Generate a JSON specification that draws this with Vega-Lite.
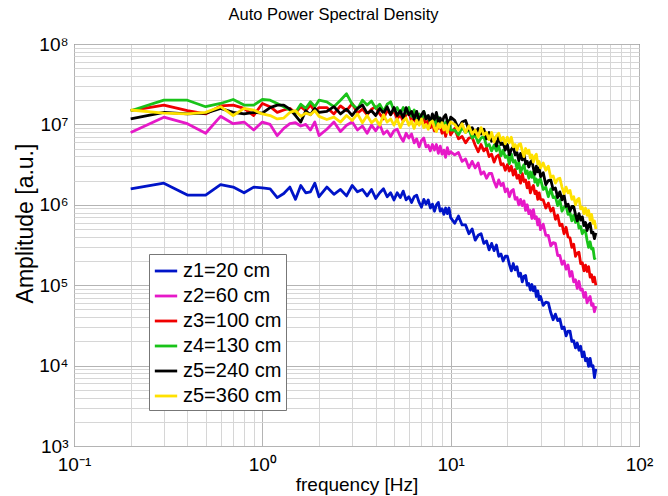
{
"$schema": "https://vega.github.io/schema/vega-lite/v6.json",
"width": 565, "height": 402,
"autosize": {"type": "none"},
"padding": {"left": 74, "top": 44, "right": 29, "bottom": 50},
"title": {"text": "Auto Power Spectral Density", "fontSize": 16.5, "fontWeight": "normal", "font": "Liberation Sans", "color": "#000", "offset": 12, "dx": -23},
"config": {"view": {"stroke": "#444", "strokeWidth": 1}, "font": "Liberation Sans"},
"data": {"values": [
{"f":0.2,"A":1.58e6,"B":7.94e6,"C":1.48e7,"D":1.48e7,"E":1.17e7,"F":1.51e7},
{"f":0.3,"A":1.86e6,"B":1.23e7,"C":1.74e7,"D":2.00e7,"E":1.41e7,"F":1.38e7},
{"f":0.4,"A":1.32e6,"B":1.02e7,"C":1.48e7,"D":2.00e7,"E":1.35e7,"F":1.35e7},
{"f":0.5,"A":1.32e6,"B":7.76e6,"C":1.35e7,"D":1.66e7,"E":1.38e7,"F":1.41e7},
{"f":0.6,"A":1.78e6,"B":1.26e7,"C":1.70e7,"D":1.82e7,"E":1.58e7,"F":1.66e7},
{"f":0.7,"A":1.66e6,"B":1.02e7,"C":1.74e7,"D":2.04e7,"E":1.41e7,"F":1.29e7},
{"f":0.8,"A":1.41e6,"B":1.07e7,"C":1.58e7,"D":1.74e7,"E":1.35e7,"F":1.58e7},
{"f":0.9,"A":1.66e6,"B":8.51e6,"C":1.29e7,"D":1.74e7,"E":1.41e7,"F":1.51e7},
{"f":1.0,"A":1.62e6,"B":1.07e7,"C":1.82e7,"D":2.04e7,"E":1.38e7,"F":1.35e7},
{"f":1.1,"A":1.58e6,"B":1.00e7,"C":1.66e7,"D":2.00e7,"E":1.62e7,"F":1.29e7},
{"f":1.2,"A":1.23e6,"B":7.24e6,"C":1.41e7,"D":1.82e7,"E":1.74e7,"F":1.17e7},
{"f":1.3,"A":1.38e6,"B":8.91e6,"C":1.51e7,"D":1.66e7,"E":1.74e7,"F":1.20e7},
{"f":1.4,"A":1.66e6,"B":1.02e7,"C":1.58e7,"D":1.51e7,"E":1.55e7,"F":1.41e7},
{"f":1.5,"A":1.17e6,"B":1.05e7,"C":1.38e7,"D":1.41e7,"E":1.29e7,"F":1.48e7},
{"f":1.6,"A":1.74e6,"B":9.55e6,"C":1.66e7,"D":1.78e7,"E":1.07e7,"F":1.26e7},
{"f":1.7,"A":1.41e6,"B":1.00e7,"C":1.48e7,"D":1.58e7,"E":1.48e7,"F":1.38e7},
{"f":1.8,"A":1.45e6,"B":8.51e6,"C":1.74e7,"D":1.91e7,"E":1.32e7,"F":1.32e7},
{"f":1.9,"A":1.86e6,"B":1.07e7,"C":1.45e7,"D":1.66e7,"E":1.58e7,"F":1.48e7},
{"f":2.0,"A":1.26e6,"B":7.24e6,"C":1.62e7,"D":2.00e7,"E":1.41e7,"F":1.26e7},
{"f":2.2,"A":1.66e6,"B":8.71e6,"C":1.62e7,"D":1.91e7,"E":1.45e7,"F":1.15e7},
{"f":2.4,"A":1.35e6,"B":1.07e7,"C":1.35e7,"D":1.66e7,"E":1.66e7,"F":1.23e7},
{"f":2.6,"A":1.55e6,"B":8.13e6,"C":1.70e7,"D":2.00e7,"E":1.35e7,"F":1.07e7},
{"f":2.8,"A":1.29e6,"B":9.77e6,"C":1.48e7,"D":2.40e7,"E":1.55e7,"F":1.29e7},
{"f":3.0,"A":1.74e6,"B":1.07e7,"C":1.82e7,"D":1.78e7,"E":1.29e7,"F":1.12e7},
{"f":3.2,"A":1.45e6,"B":8.51e6,"C":1.38e7,"D":1.55e7,"E":1.58e7,"F":1.35e7},
{"f":3.4,"A":1.55e6,"B":9.55e6,"C":1.55e7,"D":2.00e7,"E":1.74e7,"F":1.05e7},
{"f":3.6,"A":1.29e6,"B":7.76e6,"C":1.32e7,"D":1.74e7,"E":1.38e7,"F":1.29e7},
{"f":3.8,"A":1.55e6,"B":9.77e6,"C":1.55e7,"D":1.95e7,"E":1.48e7,"F":1.05e7},
{"f":4.0,"A":1.20e6,"B":8.32e6,"C":1.66e7,"D":1.58e7,"E":1.29e7,"F":1.17e7},
{"f":4.2,"A":1.41e6,"B":1.00e7,"C":1.35e7,"D":1.78e7,"E":1.58e7,"F":9.77e6},
{"f":4.4,"A":1.58e6,"B":7.59e6,"C":1.17e7,"D":1.45e7,"E":1.38e7,"F":1.32e7},
{"f":4.6,"A":1.26e6,"B":8.32e6,"C":1.51e7,"D":1.78e7,"E":1.66e7,"F":1.07e7},
{"f":4.8,"A":1.41e6,"B":7.08e6,"C":1.32e7,"D":1.91e7,"E":1.32e7,"F":1.17e7},
{"f":5.0,"A":1.15e6,"B":8.32e6,"C":1.48e7,"D":1.48e7,"E":1.62e7,"F":9.77e6},
{"f":5.2,"A":1.41e6,"B":8.71e6,"C":1.17e7,"D":1.62e7,"E":1.29e7,"F":1.17e7},
{"f":5.4,"A":1.23e6,"B":7.08e6,"C":1.32e7,"D":1.35e7,"E":1.48e7,"F":9.12e6},
{"f":5.6,"A":1.48e6,"B":6.17e6,"C":1.10e7,"D":1.62e7,"E":1.20e7,"F":1.10e7},
{"f":5.8,"A":1.15e6,"B":7.76e6,"C":1.32e7,"D":1.38e7,"E":1.62e7,"F":1.20e7},
{"f":6.0,"A":1.26e6,"B":6.76e6,"C":1.41e7,"D":1.62e7,"E":1.32e7,"F":9.77e6},
{"f":6.2,"A":1.07e6,"B":7.59e6,"C":1.10e7,"D":1.26e7,"E":1.45e7,"F":1.10e7},
{"f":6.4,"A":1.26e6,"B":5.89e6,"C":1.17e7,"D":1.51e7,"E":1.17e7,"F":8.91e6},
{"f":6.6,"A":1.32e6,"B":6.61e6,"C":1.02e7,"D":1.20e7,"E":1.45e7,"F":1.12e7},
{"f":6.8,"A":1.07e6,"B":5.25e6,"C":1.23e7,"D":1.35e7,"E":1.10e7,"F":9.77e6},
{"f":7.0,"A":9.33e5,"B":6.31e6,"C":1.05e7,"D":1.10e7,"E":1.32e7,"F":1.17e7},
{"f":7.2,"A":1.17e6,"B":6.76e6,"C":1.23e7,"D":1.45e7,"E":1.45e7,"F":9.12e6},
{"f":7.4,"A":1.02e6,"B":5.25e6,"C":9.55e6,"D":1.17e7,"E":1.17e7,"F":1.00e7},
{"f":7.6,"A":1.15e6,"B":5.50e6,"C":1.15e7,"D":1.26e7,"E":1.29e7,"F":8.71e6},
{"f":7.8,"A":9.12e5,"B":4.68e6,"C":9.12e6,"D":1.05e7,"E":1.07e7,"F":1.05e7},
{"f":8.0,"A":1.02e6,"B":5.62e6,"C":1.02e7,"D":1.26e7,"E":1.35e7,"F":1.10e7},
{"f":8.2,"A":8.32e5,"B":4.79e6,"C":8.32e6,"D":9.55e6,"E":1.15e7,"F":9.12e6},
{"f":8.4,"A":1.00e6,"B":5.62e6,"C":1.10e7,"D":1.12e7,"E":1.41e7,"F":8.13e6},
{"f":8.6,"A":1.07e6,"B":4.37e6,"C":8.91e6,"D":1.23e7,"E":1.07e7,"F":1.02e7},
{"f":8.8,"A":8.32e5,"B":5.37e6,"C":9.55e6,"D":9.77e6,"E":1.20e7,"F":9.12e6},
{"f":9.0,"A":8.91e5,"B":4.27e6,"C":7.76e6,"D":1.07e7,"E":1.05e7,"F":1.05e7},
{"f":9.2,"A":7.59e5,"B":4.79e6,"C":9.33e6,"D":8.71e6,"E":1.23e7,"F":8.51e6},
{"f":9.4,"A":9.12e5,"B":3.89e6,"C":7.08e6,"D":1.07e7,"E":1.32e7,"F":9.77e6},
{"f":9.6,"A":7.76e5,"B":5.13e6,"C":8.51e6,"D":9.12e6,"E":1.10e7,"F":7.94e6},
{"f":9.8,"A":9.12e5,"B":4.27e6,"C":9.33e6,"D":1.12e7,"E":9.55e6,"F":9.77e6},
{"f":10.0,"A":6.92e5,"B":4.57e6,"C":7.41e6,"D":8.51e6,"E":1.23e7,"F":1.07e7},
{"f":10.5,"A":5.89e5,"B":4.17e6,"C":8.91e6,"D":8.51e6,"E":1.12e7,"F":1.00e7},
{"f":11,"A":7.24e5,"B":4.47e6,"C":6.61e6,"D":7.41e6,"E":8.91e6,"F":8.51e6},
{"f":11.5,"A":5.62e5,"B":3.47e6,"C":7.08e6,"D":9.12e6,"E":1.07e7,"F":1.02e7},
{"f":12,"A":5.62e5,"B":3.72e6,"C":5.89e6,"D":7.94e6,"E":1.12e7,"F":7.94e6},
{"f":12.5,"A":4.37e5,"B":2.88e6,"C":6.76e6,"D":8.71e6,"E":8.51e6,"F":9.55e6},
{"f":13,"A":5.01e5,"B":3.47e6,"C":6.92e6,"D":6.76e6,"E":9.12e6,"F":7.59e6},
{"f":13.5,"A":3.63e5,"B":2.88e6,"C":5.50e6,"D":7.41e6,"E":7.59e6,"F":8.51e6},
{"f":14,"A":4.17e5,"B":3.31e6,"C":4.57e6,"D":5.89e6,"E":8.91e6,"F":6.92e6},
{"f":14.5,"A":4.37e5,"B":2.40e6,"C":5.62e6,"D":6.76e6,"E":7.59e6,"F":9.12e6},
{"f":15,"A":3.31e5,"B":2.57e6,"C":4.68e6,"D":7.08e6,"E":8.71e6,"F":7.41e6},
{"f":15.5,"A":3.55e5,"B":2.14e6,"C":5.13e6,"D":5.37e6,"E":6.61e6,"F":7.94e6},
{"f":16,"A":2.75e5,"B":2.45e6,"C":3.98e6,"D":5.62e6,"E":7.94e6,"F":6.46e6},
{"f":16.5,"A":3.31e5,"B":2.45e6,"C":4.27e6,"D":4.68e6,"E":6.17e6,"F":7.94e6},
{"f":17,"A":2.69e5,"B":1.95e6,"C":3.39e6,"D":5.50e6,"E":6.76e6,"F":6.03e6},
{"f":17.5,"A":3.16e5,"B":1.66e6,"C":3.98e6,"D":4.68e6,"E":5.37e6,"F":7.24e6},
{"f":18,"A":2.29e5,"B":2.04e6,"C":4.17e6,"D":5.37e6,"E":7.08e6,"F":7.76e6},
{"f":18.5,"A":2.45e5,"B":1.74e6,"C":3.16e6,"D":4.07e6,"E":5.62e6,"F":6.31e6},
{"f":19,"A":2.00e5,"B":1.86e6,"C":3.24e6,"D":4.79e6,"E":5.89e6,"F":6.92e6},
{"f":19.5,"A":2.29e5,"B":1.45e6,"C":2.69e6,"D":3.89e6,"E":4.79e6,"F":5.75e6},
{"f":20,"A":2.29e5,"B":1.58e6,"C":3.16e6,"D":4.07e6,"E":5.62e6,"F":6.92e6},
{"f":20.5,"A":1.82e5,"B":1.26e6,"C":2.63e6,"D":3.24e6,"E":4.17e6,"F":5.89e6},
{"f":21,"A":1.51e5,"B":1.48e6,"C":3.02e6,"D":4.27e6,"E":4.90e6,"F":6.92e6},
{"f":21.5,"A":1.86e5,"B":1.55e6,"C":2.34e6,"D":3.39e6,"E":5.25e6,"F":5.25e6},
{"f":22,"A":1.55e5,"B":1.17e6,"C":2.75e6,"D":3.55e6,"E":4.17e6,"F":5.62e6},
{"f":22.5,"A":1.70e5,"B":1.23e6,"C":2.14e6,"D":2.82e6,"E":4.47e6,"F":4.79e6},
{"f":23,"A":1.29e5,"B":1.00e6,"C":2.34e6,"D":3.39e6,"E":3.55e6,"F":5.62e6},
{"f":23.5,"A":1.41e5,"B":1.17e6,"C":1.86e6,"D":2.51e6,"E":4.37e6,"F":5.75e6},
{"f":24,"A":1.10e5,"B":9.77e5,"C":2.45e6,"D":2.88e6,"E":3.63e6,"F":4.68e6},
{"f":24.5,"A":1.29e5,"B":1.12e6,"C":1.95e6,"D":3.16e6,"E":4.37e6,"F":3.98e6},
{"f":25,"A":1.32e5,"B":8.51e5,"C":2.04e6,"D":2.45e6,"E":3.24e6,"F":5.01e6},
{"f":25.5,"A":1.00e5,"B":1.00e6,"C":1.62e6,"D":2.63e6,"E":3.47e6,"F":4.37e6},
{"f":26,"A":1.05e5,"B":7.76e5,"C":1.91e6,"D":2.14e6,"E":2.95e6,"F":4.79e6},
{"f":26.5,"A":8.71e4,"B":8.51e5,"C":1.41e6,"D":2.57e6,"E":3.39e6,"F":3.80e6},
{"f":27,"A":1.02e5,"B":6.76e5,"C":1.62e6,"D":2.19e6,"E":3.55e6,"F":4.17e6},
{"f":27.5,"A":8.51e4,"B":8.71e5,"C":1.74e6,"D":2.57e6,"E":2.82e6,"F":3.39e6},
{"f":28,"A":9.55e4,"B":6.76e5,"C":1.38e6,"D":1.91e6,"E":2.40e6,"F":3.98e6},
{"f":28.5,"A":7.24e4,"B":7.08e5,"C":1.48e6,"D":2.09e6,"E":3.02e6,"F":4.27e6},
{"f":29,"A":8.51e4,"B":5.62e5,"C":1.17e6,"D":1.74e6,"E":2.57e6,"F":3.24e6},
{"f":29.5,"A":6.61e4,"B":6.61e5,"C":1.41e6,"D":2.04e6,"E":2.88e6,"F":3.47e6},
{"f":30,"A":7.24e4,"B":4.90e5,"C":1.17e6,"D":2.09e6,"E":2.24e6,"F":2.88e6},
{"f":31,"A":5.62e4,"B":5.75e5,"C":1.15e6,"D":1.55e6,"E":2.51e6,"F":3.31e6},
{"f":32,"A":6.17e4,"B":4.17e5,"C":9.12e5,"D":1.66e6,"E":1.78e6,"F":2.69e6},
{"f":33,"A":6.03e4,"B":4.17e5,"C":1.05e6,"D":1.26e6,"E":2.00e6,"F":3.02e6},
{"f":34,"A":4.57e4,"B":3.09e5,"C":8.32e5,"D":1.58e6,"E":2.04e6,"F":2.19e6},
{"f":35,"A":3.72e4,"B":3.39e5,"C":9.12e5,"D":1.23e6,"E":1.55e6,"F":2.29e6},
{"f":36,"A":4.37e4,"B":3.31e5,"C":6.61e5,"D":1.26e6,"E":1.62e6,"F":1.86e6},
{"f":37,"A":3.63e4,"B":2.34e5,"C":7.41e5,"D":9.77e5,"E":1.23e6,"F":2.09e6},
{"f":38,"A":3.80e4,"B":2.34e5,"C":5.50e5,"D":1.15e6,"E":1.45e6,"F":2.14e6},
{"f":39,"A":2.88e4,"B":1.82e5,"C":5.75e5,"D":8.32e5,"E":1.15e6,"F":1.66e6},
{"f":40,"A":3.02e4,"B":2.00e5,"C":4.37e5,"D":9.33e5,"E":1.32e6,"F":1.38e6},
{"f":41,"A":2.34e4,"B":1.58e5,"C":5.25e5,"D":9.77e5,"E":9.55e5,"F":1.66e6},
{"f":42,"A":2.69e4,"B":1.78e5,"C":3.98e5,"D":7.59e5,"E":1.02e6,"F":1.41e6},
{"f":43,"A":2.69e4,"B":1.29e5,"C":3.89e5,"D":7.94e5,"E":8.32e5,"F":1.51e6},
{"f":44,"A":2.00e4,"B":1.48e5,"C":2.95e5,"D":6.31e5,"E":9.55e5,"F":1.17e6},
{"f":45,"A":2.04e4,"B":1.10e5,"C":3.24e5,"D":7.41e5,"E":9.55e5,"F":1.26e6},
{"f":46,"A":1.66e4,"B":1.17e5,"C":2.29e5,"D":6.03e5,"E":7.59e5,"F":1.00e6},
{"f":47,"A":1.91e4,"B":9.12e4,"C":2.51e5,"D":6.92e5,"E":6.31e5,"F":1.15e6},
{"f":48,"A":1.55e4,"B":1.12e5,"C":2.57e5,"D":5.13e5,"E":7.76e5,"F":1.20e6},
{"f":49,"A":1.74e4,"B":8.71e4,"C":1.86e5,"D":5.37e5,"E":6.46e5,"F":8.91e5},
{"f":50,"A":1.29e4,"B":8.91e4,"C":1.91e5,"D":4.37e5,"E":7.08e5,"F":9.33e5},
{"f":51,"A":1.48e4,"B":7.08e4,"C":1.51e5,"D":4.79e5,"E":5.50e5,"F":7.76e5},
{"f":52,"A":1.15e4,"B":8.13e4,"C":1.78e5,"D":4.68e5,"E":6.03e5,"F":9.12e5},
{"f":53,"A":1.23e4,"B":6.03e4,"C":1.48e5,"D":3.63e5,"E":4.79e5,"F":7.41e5},
{"f":54,"A":9.77e3,"B":6.76e4,"C":1.70e5,"D":2.95e5,"E":5.62e5,"F":8.51e5},
{"f":55,"A":1.23e4,"B":7.24e4,"C":1.26e5,"D":3.47e5,"E":5.89e5,"F":6.46e5},
{"f":56,"A":9.77e3,"B":5.62e4,"C":1.35e5,"D":2.82e5,"E":4.47e5,"F":7.59e5},
{"f":57,"A":1.00e4,"B":5.89e4,"C":1.10e5,"D":2.88e5,"E":4.57e5,"F":5.89e5},
{"f":58,"A":7.08e3,"B":4.68e4,"C":1.26e5,"D":2.14e5,"E":3.80e5,"F":6.31e5},
{"f":59,"A":9.12e3,"B":5.50e4,"C":1.00e5,"D":2.19e5,"E":4.47e5,"F":5.01e5}
]},
"transform": [{"fold": ["A","B","C","D","E","F"], "as": ["key","amp"]}],
"mark": {"type": "line", "strokeWidth": 2.8, "clip": true, "strokeJoin": "round"},
"encoding": {
"x": {"field": "f", "type": "quantitative",
 "scale": {"type": "log", "domain": [0.1, 100], "nice": false},
 "axis": {"values": [0.1,0.2,0.3,0.4,0.5,0.6,0.7,0.8,0.9,1,2,3,4,5,6,7,8,9,10,20,30,40,50,60,70,80,90,100],
  "labelExpr": "datum.value==0.1?'10⁻¹':datum.value==1?'10⁰':datum.value==10?'10¹':datum.value==100?'10²':''",
  "labelFont": "Liberation Sans", "labelFontSize": 19, "labelColor": "#000", "labelPadding": 9,
  "labelOverlap": false, "labelFlush": false, "labelBound": false,
  "title": "frequency [Hz]", "titleFont": "Liberation Sans", "titleFontSize": 19, "titleFontWeight": "normal", "titleColor": "#000", "titlePadding": 1,
  "grid": true, "gridWidth": 1,
  "gridColor": {"condition": {"test": "datum.value==0.1||datum.value==1||datum.value==10||datum.value==100", "value": "#b4b4b4"}, "value": "#d6d6d6"},
  "domain": false, "ticks": false}},
"y": {"field": "amp", "type": "quantitative",
 "scale": {"type": "log", "domain": [1000, 100000000], "nice": false},
 "axis": {"values": [1000,2000,3000,4000,5000,6000,7000,8000,9000,10000,20000,30000,40000,50000,60000,70000,80000,90000,100000,200000,300000,400000,500000,600000,700000,800000,900000,1000000,2000000,3000000,4000000,5000000,6000000,7000000,8000000,9000000,10000000,20000000,30000000,40000000,50000000,60000000,70000000,80000000,90000000,100000000],
  "labelExpr": "datum.value==1000?'10³':datum.value==10000?'10⁴':datum.value==100000?'10⁵':datum.value==1000000?'10⁶':datum.value==10000000?'10⁷':datum.value==100000000?'10⁸':''",
  "labelFont": "Liberation Sans", "labelFontSize": 19, "labelColor": "#000", "labelPadding": 6,
  "labelOverlap": false, "labelFlush": false, "labelBound": false,
  "title": "Amplitude [a.u.]", "titleFont": "Liberation Sans", "titleFontSize": 23, "titleFontWeight": "normal", "titleColor": "#000",
  "titleX": -37, "titleY": 179,
  "grid": true, "gridWidth": 1,
  "gridColor": {"condition": {"test": "indexof([1000,10000,100000,1000000,10000000,100000000], datum.value) >= 0", "value": "#b4b4b4"}, "value": "#d6d6d6"},
  "domain": false, "ticks": false}},
"color": {"field": "key", "type": "nominal",
 "scale": {"domain": ["A","B","C","D","E","F"], "range": ["#0014c8","#e619c8","#f00000","#19c319","#000000","#ffe100"]},
 "legend": {"orient": "none", "legendX": 75, "legendY": 210, "title": null, "direction": "vertical",
  "symbolType": "stroke", "symbolStrokeWidth": 2.8, "symbolSize": 500,
  "labelFont": "Liberation Sans", "labelFontSize": 20, "labelColor": "#000", "labelOffset": 4, "labelLimit": 300,
  "fillColor": "white", "strokeColor": "#777", "padding": 4, "rowPadding": 2,
  "labelExpr": "datum.label=='A'?'z1=20 cm':datum.label=='B'?'z2=60 cm':datum.label=='C'?'z3=100 cm':datum.label=='D'?'z4=130 cm':datum.label=='E'?'z5=240 cm':'z5=360 cm'"}}
}
}
